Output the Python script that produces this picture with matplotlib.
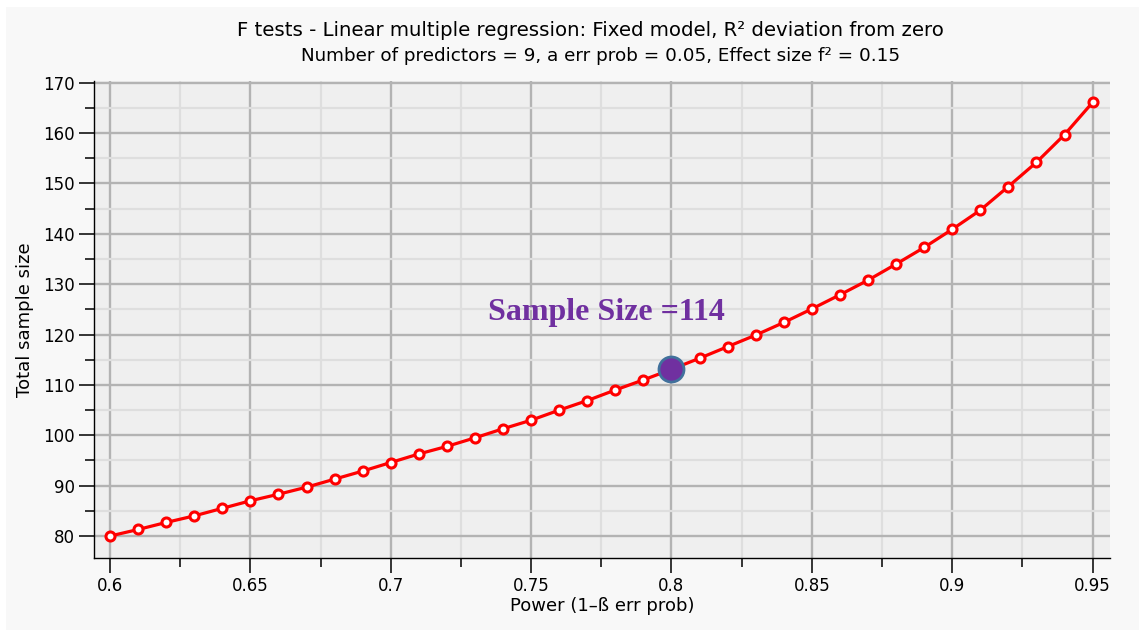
import matplotlib
matplotlib.use("Agg")
import matplotlib.pyplot as plt
from matplotlib.ticker import MultipleLocator, FuncFormatter
from matplotlib.patches import Rectangle

# ---- data ----
power = [0.60, 0.61, 0.62, 0.63, 0.64, 0.65, 0.66, 0.67, 0.68, 0.69,
         0.70, 0.71, 0.72, 0.73, 0.74, 0.75, 0.76, 0.77, 0.78, 0.79,
         0.80, 0.81, 0.82, 0.83, 0.84, 0.85, 0.86, 0.87, 0.88, 0.89,
         0.90, 0.91, 0.92, 0.93, 0.94, 0.95]
sample_size = [80.0, 81.3, 82.7, 84.0, 85.5, 87.0, 88.3, 89.7, 91.3, 92.9,
               94.6, 96.3, 97.8, 99.5, 101.3, 103.0, 105.0, 106.9, 109.0, 111.0,
               113.1, 115.3, 117.6, 119.9, 122.4, 125.1, 127.9, 130.8, 134.0, 137.3,
               140.9, 144.7, 149.4, 154.2, 159.7, 166.1]
highlight_power = 0.80
highlight_n = 113.1
annotation = "Sample Size =114"
title = "F tests - Linear multiple regression: Fixed model, R\u00b2 deviation from zero"
subtitle = "Number of predictors = 9, a err prob = 0.05, Effect size f\u00b2 = 0.15"
xlabel = "Power (1\u2013\u00df err prob)"
ylabel = "Total sample size"

W, H = 1139, 630
fig = plt.figure(figsize=(W / 100, H / 100), dpi=100, facecolor="white")
fig.patches.append(Rectangle((6 / W, 0), 1, 1 - 7 / H, transform=fig.transFigure,
                             facecolor="#f8f8f8", edgecolor="none", zorder=-10))

ax = fig.add_axes([94 / W, (H - 557.7) / H, (1110 - 94) / W, (557.7 - 81) / H])
ax.set_facecolor("#efefef")

ax.set_xlim(0.5943, 0.9562)
ax.set_ylim(75.7, 170.35)

ax.xaxis.set_major_locator(MultipleLocator(0.05))
ax.xaxis.set_minor_locator(MultipleLocator(0.025))
ax.yaxis.set_major_locator(MultipleLocator(10))
ax.yaxis.set_minor_locator(MultipleLocator(5))
ax.xaxis.set_major_formatter(FuncFormatter(lambda v, p: f"{v:.2f}".rstrip("0").rstrip(".")))
ax.yaxis.set_major_formatter(FuncFormatter(lambda v, p: f"{v:.0f}"))

ax.grid(which="major", color="#b3b3b3", linewidth=1.7, zorder=0)
ax.grid(which="minor", color="#dedede", linewidth=1.6, zorder=0)
ax.set_axisbelow(True)

for s in ("top", "right"):
    ax.spines[s].set_visible(False)
for s in ("left", "bottom"):
    ax.spines[s].set_color("black")
    ax.spines[s].set_linewidth(1.0)

ax.tick_params(which="major", length=10.5, width=1.1, color="black", labelsize=12,
               pad=3.5, direction="out")
ax.tick_params(which="minor", length=6.5, width=1.1, color="black", direction="out")

ax.plot(power, sample_size, color="#ff0000", linewidth=2.3, marker="o",
        markersize=6.5, markerfacecolor="white", markeredgecolor="#ff0000",
        markeredgewidth=2.2, zorder=3)
ax.plot([highlight_power], [highlight_n], marker="o", markersize=18,
        markerfacecolor="#7030a0", markeredgecolor="#41719c",
        markeredgewidth=2.0, linestyle="none", zorder=4)
ax.text(0.777, 124.3, annotation, color="#7030a0", fontsize=23,
        fontweight="bold", family="Liberation Serif", ha="center", va="center",
        zorder=5)

ax.set_xlabel(xlabel, fontsize=13, labelpad=1)
ax.set_ylabel(ylabel, fontsize=13, labelpad=6)

fig.text(590 / W, 1 - 30 / H, title, ha="center", va="center", fontsize=14.2)
fig.text(601 / W, 1 - 56 / H, subtitle, ha="center", va="center", fontsize=13.2)

fig.savefig("out.png", dpi=100, facecolor=fig.get_facecolor())
